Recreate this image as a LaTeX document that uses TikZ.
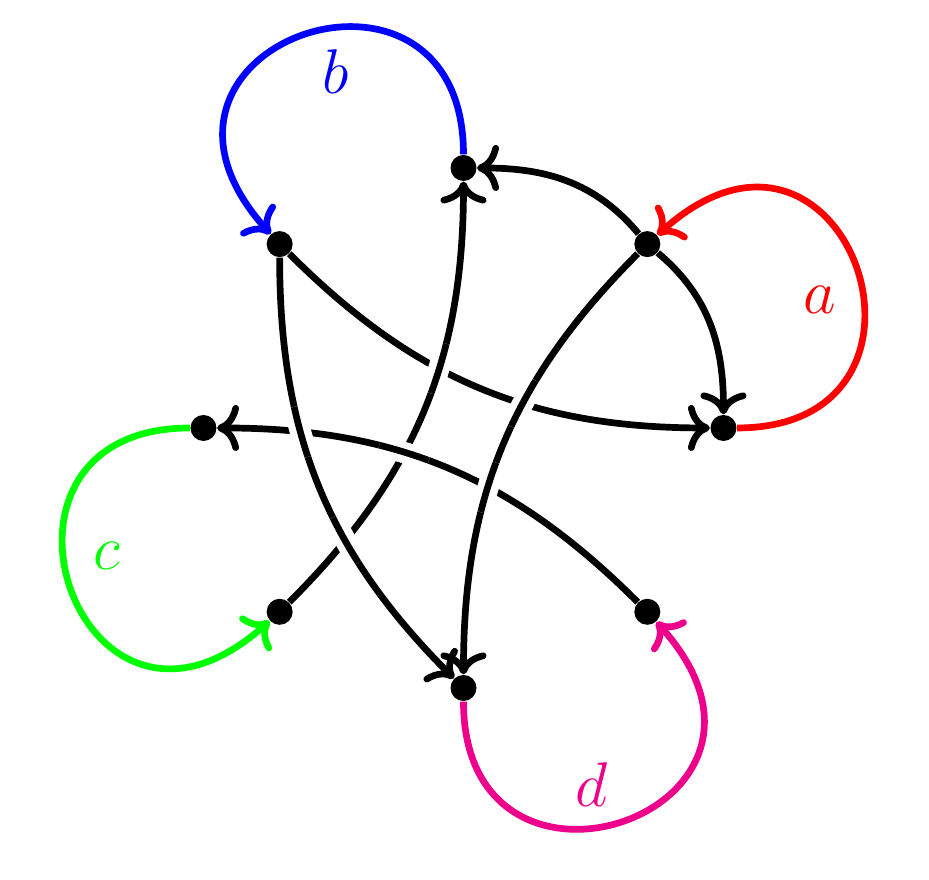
\documentclass[tikz,border=0pt]{standalone}
\usepackage{amsmath,amssymb}
\usepackage{xcolor}
\usepackage{tikz}
\usetikzlibrary{intersections,arrows.meta}
\definecolor{loopmagenta}{RGB}{236,0,140}

\begin{document}
\begin{tikzpicture}[
  dot/.style={circle, fill=black, inner sep=0pt, minimum size=0.3cm},
  wire/.style={line width=2.2pt, -{To[scale=1.12]}},
  halo/.style={draw=white, line width=7pt},
  lbl/.style={font=\huge}
]
  \useasboundingbox (-5.348,-5.215) rectangle (5.371,4.938);

  % Nodes
  \node[dot] (t) at (90:3) {};
  \node[dot] (ur) at (45:3) {};
  \node[dot] (r) at (0:3) {};
  \node[dot] (lr) at (-45:3) {};
  \node[dot] (b) at (-90:3) {};
  \node[dot] (ll) at (-135:3) {};
  \node[dot] (l) at (180:3) {};
  \node[dot] (ul) at (135:3) {};

  % Edges
  \draw[wire] (ur) to[out=130, in=0] (t);
  \draw[wire] (ur) to[out=-40, in=90] (r);
  \draw[wire, name path=ulr] (ul) to[out=-45, in=180] (r);
  \draw[wire, name path=urb] (ur) to[out=-135, in=90] (b);
  \draw[wire, name path=lrl] (lr) to[out=135, in=0] (l);
  \draw[wire, name path=llt] (ll) to[out=45, in=-90] (t);
  \draw[wire, name path=ulb] (ul) to[out=-90, in=135] (b);

  % Crossings
  \path[name intersections={of=ulr and llt, by=xa}];
  \path[name intersections={of=ulr and urb, by=xb}];
  \path[name intersections={of=ulb and lrl, by=xc}];
  \path[name intersections={of=lrl and llt, by=xd}];
  \path[name intersections={of=urb and lrl, by=xe}];
  \path[name intersections={of=ulb and llt, by=xf}];
  \begin{scope}
    \clip (xa) circle (0.3);
    \draw[halo] (ll) to[out=45, in=-90] (t);
    \draw[wire] (ll) to[out=45, in=-90] (t);
  \end{scope}
  \begin{scope}
    \clip (xb) circle (0.3);
    \draw[halo] (ur) to[out=-135, in=90] (b);
    \draw[wire] (ur) to[out=-135, in=90] (b);
  \end{scope}
  \begin{scope}
    \clip (xc) circle (0.3);
    \draw[halo] (ul) to[out=-90, in=135] (b);
    \draw[wire] (ul) to[out=-90, in=135] (b);
  \end{scope}
  \begin{scope}
    \clip (xd) circle (0.3);
    \draw[halo] (lr) to[out=135, in=0] (l);
    \draw[wire] (lr) to[out=135, in=0] (l);
  \end{scope}
  \begin{scope}
    \clip (xe) circle (0.3);
    \draw[halo] (ur) to[out=-135, in=90] (b);
    \draw[wire] (ur) to[out=-135, in=90] (b);
  \end{scope}
  \begin{scope}
    \clip (xf) circle (0.3);
    \draw[halo] (ul) to[out=-90, in=135] (b);
    \draw[wire] (ul) to[out=-90, in=135] (b);
  \end{scope}

  % Loops
  \draw[wire, red] (r) .. controls +(0:2.85) and +(42:3.1) .. (ur);
  \draw[wire, blue] (t) .. controls +(90:2.85) and +(132:3.1) .. (ul);
  \draw[wire, green] (l) .. controls +(180:2.85) and +(222:3.1) .. (ll);
  \draw[wire, loopmagenta] (b) .. controls +(270:2.85) and +(312:3.1) .. (lr);

  % Labels
  \node[lbl, red] (la) at (19.75:4.37) {$a$};
  \node[lbl, blue] (lb) at (109.75:4.37) {$b$};
  \node[lbl, green] (lc) at (199.75:4.37) {$c$};
  \node[lbl, loopmagenta] (ld) at (289.75:4.37) {$d$};
\end{tikzpicture}
\end{document}
